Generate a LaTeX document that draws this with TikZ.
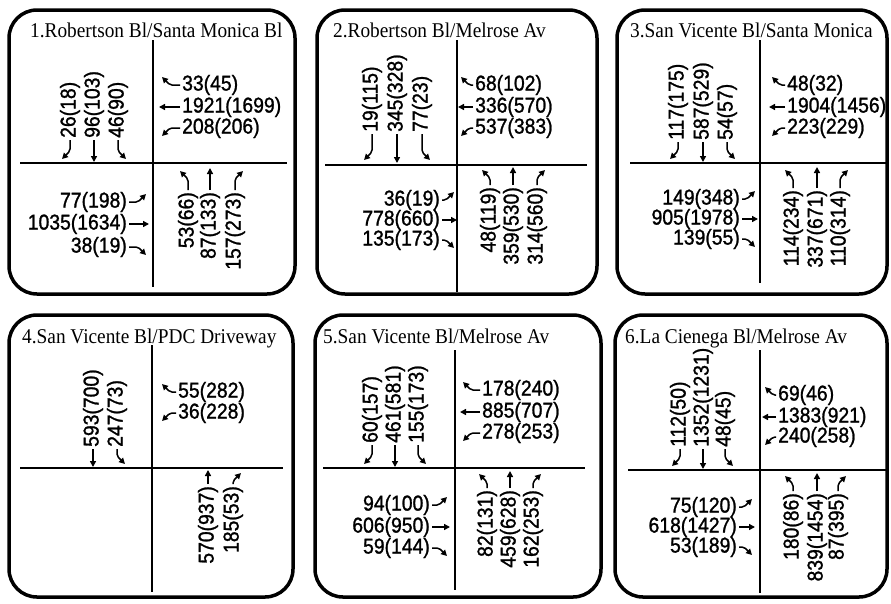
\documentclass[tikz,border=0pt]{standalone}
\usepackage{fontspec}
\setmainfont{Liberation Serif}
\newfontfamily\numfont[FakeStretch=0.9,FakeBold=1.2]{Liberation Sans}
\newfontfamily\ttlfont[FakeStretch=0.92]{Liberation Serif}
\usetikzlibrary{arrows.meta}
\tikzset{
  panelbox/.style={line width=3.5pt, rounded corners=28pt},
  road/.style={line width=1.3pt},
  num/.style={font=\numfont\fontsize{21.5}{23}\selectfont, inner sep=0pt},
  ttl/.style={font=\ttlfont\fontsize{21}{23}\selectfont, inner sep=0pt, anchor=base west},
  arr/.style={line width=1.5pt, -{Triangle[length=6pt,width=6pt]}},
  turnarr/.style={arr, rounded corners=2pt},
  tharr/.pic={\draw[arr] (0,0) -- (0,#1);},
  rtarr/.pic={\draw[turnarr] (0,0) -- (0,#1-11) -- (-8,#1-3);},
  ltarr/.pic={\draw[turnarr] (0,0) -- (0,#1-11) -- (8,#1-3);}
}
% approach macros: name, x, y, text, arrow type, length
\newcommand\appN[6]{\node[num,rotate=90,anchor=west] (#1) at (#2,#3) {#4};
  \pic at ([yshift=-2pt]#1.west) {#5=#6};}
\newcommand\appS[6]{\node[num,rotate=90,anchor=east] (#1) at (#2,#3) {#4};
  \pic[rotate=180] at ([yshift=2pt]#1.east) {#5=#6};}
\newcommand\appE[6]{\node[num,anchor=west] (#1) at (#2,#3) {#4};
  \pic[rotate=-90] at ([xshift=-2pt]#1.west) {#5=#6};}
\newcommand\appW[6]{\node[num,anchor=east] (#1) at (#2,#3) {#4};
  \pic[rotate=90] at ([xshift=2pt]#1.east) {#5=#6};}
\begin{document}
\begin{tikzpicture}[x=1pt,y=-1pt]
\useasboundingbox[fill=white] (0,0) rectangle (891,603);

% ---------- Panel 1 ----------
\draw[panelbox] (9,10) rectangle (295,294);
\node[ttl] (t1) at (30,37) {1.Robertson Bl/Santa Monica Bl};
\coordinate (v1a) at (153,40); \coordinate (v1b) at (153,287);
\coordinate (h1a) at (20,163); \coordinate (h1b) at (287,163);
\draw[road] (v1a) -- (v1b); \draw[road] (h1a) -- (h1b);
\appN{a1n1}{70}{138}{26(18)}{rtarr}{22}
\appN{a1n2}{94}{138}{96(103)}{tharr}{22}
\appN{a1n3}{118}{138}{46(90)}{ltarr}{22}
\appE{a1e1}{182}{85}{33(45)}{rtarr}{21}
\appE{a1e2}{182}{107}{1921(1699)}{tharr}{21}
\appE{a1e3}{182}{128}{208(206)}{ltarr}{21}
\appS{a1s1}{188}{192}{53(66)}{ltarr}{22}
\appS{a1s2}{210}{192}{87(133)}{tharr}{22}
\appS{a1s3}{235}{192}{157(273)}{rtarr}{22}
\appW{a1w1}{127}{202}{77(198)}{ltarr}{20}
\appW{a1w2}{127}{224}{1035(1634)}{tharr}{20}
\appW{a1w3}{127}{247}{38(19)}{rtarr}{20}

% ---------- Panel 2 ----------
\draw[panelbox] (317,10) rectangle (597,294);
\node[ttl] (t2) at (333,37) {2.Robertson Bl/Melrose Av};
\coordinate (v2a) at (457,40); \coordinate (v2b) at (457,292);
\coordinate (h2a) at (325,165); \coordinate (h2b) at (587,165);
\draw[road] (v2a) -- (v2b); \draw[road] (h2a) -- (h2b);
\appN{a2n1}{372}{132}{19(115)}{rtarr}{29}
\appN{a2n2}{397}{132}{345(328)}{tharr}{29}
\appN{a2n3}{422}{132}{77(23)}{ltarr}{29}
\appE{a2e1}{475}{85}{68(102)}{rtarr}{15}
\appE{a2e2}{475}{107}{336(570)}{tharr}{15}
\appE{a2e3}{475}{128}{537(383)}{ltarr}{15}
\appS{a2s1}{490}{187}{48(119)}{ltarr}{18}
\appS{a2s2}{513}{187}{359(530)}{tharr}{18}
\appS{a2s3}{537}{187}{314(560)}{rtarr}{18}
\appW{a2w1}{440}{200}{36(19)}{ltarr}{15}
\appW{a2w2}{440}{220}{778(660)}{tharr}{15}
\appW{a2w3}{440}{240}{135(173)}{rtarr}{15}

% ---------- Panel 3 ----------
\draw[panelbox] (617,10) rectangle (887,294);
\node[ttl] (t3) at (630,37) {3.San Vicente Bl/Santa Monica};
\coordinate (v3a) at (760,40); \coordinate (v3b) at (760,283);
\coordinate (h3a) at (630,163); \coordinate (h3b) at (886,163);
\draw[road] (v3a) -- (v3b); \draw[road] (h3a) -- (h3b);
\appN{a3n1}{678}{140}{117(175)}{rtarr}{20}
\appN{a3n2}{703}{140}{587(529)}{tharr}{20}
\appN{a3n3}{727}{140}{54(57)}{ltarr}{20}
\appE{a3e1}{787}{85}{48(32)}{rtarr}{16}
\appE{a3e2}{787}{107}{1904(1456)}{tharr}{16}
\appE{a3e3}{787}{128}{223(229)}{ltarr}{16}
\appS{a3s1}{793}{190}{114(234)}{ltarr}{21}
\appS{a3s2}{817}{190}{337(671)}{tharr}{21}
\appS{a3s3}{840}{190}{110(314)}{rtarr}{21}
\appW{a3w1}{740}{199}{149(348)}{ltarr}{16}
\appW{a3w2}{740}{219}{905(1978)}{tharr}{16}
\appW{a3w3}{740}{239}{139(55)}{rtarr}{16}

% ---------- Panel 4 ----------
\draw[panelbox] (9,315) rectangle (293,597);
\node[ttl] (t4) at (22,343) {4.San Vicente Bl/PDC Driveway};
\coordinate (v4a) at (152,345); \coordinate (v4b) at (152,592);
\coordinate (h4a) at (20,468); \coordinate (h4b) at (283,468);
\draw[road] (v4a) -- (v4b); \draw[road] (h4a) -- (h4b);
\appN{a4n2}{93}{447}{593(700)}{tharr}{18}
\appN{a4n3}{117}{447}{247(73)}{ltarr}{18}
\appE{a4e1}{178}{392}{55(282)}{rtarr}{17}
\appE{a4e3}{178}{413}{36(228)}{ltarr}{17}
\appS{a4s2}{208}{486}{570(937)}{tharr}{14}
\appS{a4s3}{233}{486}{185(53)}{rtarr}{14}

% ---------- Panel 5 ----------
\draw[panelbox] (315,315) rectangle (601,597);
\node[ttl] (t5) at (323,343) {5.San Vicente Bl/Melrose Av};
\coordinate (v5a) at (455,350); \coordinate (v5b) at (455,590);
\coordinate (h5a) at (323,468); \coordinate (h5b) at (585,468);
\draw[road] (v5a) -- (v5b); \draw[road] (h5a) -- (h5b);
\appN{a5n1}{372}{443}{60(157)}{rtarr}{22}
\appN{a5n2}{395}{443}{461(581)}{tharr}{22}
\appN{a5n3}{418}{443}{155(173)}{ltarr}{22}
\appE{a5e1}{482}{390}{178(240)}{rtarr}{20}
\appE{a5e2}{482}{412}{885(707)}{tharr}{20}
\appE{a5e3}{482}{433}{278(253)}{ltarr}{20}
\appS{a5s1}{487}{490}{82(131)}{ltarr}{17}
\appS{a5s2}{510}{490}{459(628)}{tharr}{17}
\appS{a5s3}{533}{490}{162(253)}{rtarr}{17}
\appW{a5w1}{430}{505}{94(100)}{ltarr}{18}
\appW{a5w2}{430}{527}{606(950)}{tharr}{18}
\appW{a5w3}{430}{548}{59(144)}{rtarr}{18}

% ---------- Panel 6 ----------
\draw[panelbox] (615,315) rectangle (887,597);
\node[ttl] (t6) at (625,343) {6.La Cienega Bl/Melrose Av};
\coordinate (v6a) at (760,350); \coordinate (v6b) at (760,593);
\coordinate (h6a) at (628,470); \coordinate (h6b) at (886,470);
\draw[road] (v6a) -- (v6b); \draw[road] (h6a) -- (h6b);
\appN{a6n1}{680}{447}{112(50)}{rtarr}{20}
\appN{a6n2}{703}{447}{1352(1231)}{tharr}{20}
\appN{a6n3}{725}{447}{48(45)}{ltarr}{20}
\appE{a6e1}{778}{395}{69(46)}{rtarr}{14}
\appE{a6e2}{778}{417}{1383(921)}{tharr}{14}
\appE{a6e3}{778}{437}{240(258)}{ltarr}{14}
\appS{a6s1}{793}{493}{180(86)}{ltarr}{18}
\appS{a6s2}{817}{493}{839(1454)}{tharr}{18}
\appS{a6s3}{838}{493}{87(395)}{rtarr}{18}
\appW{a6w1}{737}{507}{75(120)}{ltarr}{16}
\appW{a6w2}{737}{527}{618(1427)}{tharr}{16}
\appW{a6w3}{737}{547}{53(189)}{rtarr}{16}
\end{tikzpicture}
\end{document}
